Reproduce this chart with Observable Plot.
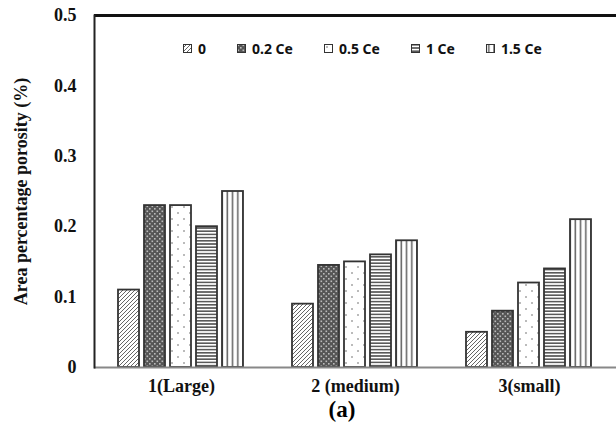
<!DOCTYPE html>
<html>
<head>
<meta charset="utf-8">
<script src="https://cdn.jsdelivr.net/npm/d3@7"></script>
<script src="https://cdn.jsdelivr.net/npm/@observablehq/plot@0.6"></script>
<style>
  html, body { margin: 0; padding: 0; background: #fff; }
  #wrap { position: relative; width: 616px; height: 442px; }
  #legend { position: absolute; top: 39px; left: 183px; display: flex; align-items: center;
    font-family: "Noto Sans", "Open Sans", sans-serif; font-weight: bold; font-size: 14px; color: #111; }
  .item { display: flex; align-items: center; margin-right: 31px; }
  .item svg { margin-right: 6px; }
  #caption { position: absolute; top: 398px; left: 322px; width: 40px; text-align: center;
    font-family: "Liberation Serif", serif; font-weight: bold; font-size: 23px; line-height: 24px; }
</style>
</head>
<body>
<svg width="0" height="0" style="position:absolute">
  <defs>
    <pattern id="p0" patternUnits="userSpaceOnUse" width="4" height="4">
      <rect width="4" height="4" fill="#fff"/>
      <path d="M-1,1 l2,-2 M0,4 l4,-4 M3,5 l2,-2" stroke="#666" stroke-width="1"/>
    </pattern>
    <pattern id="p02" patternUnits="userSpaceOnUse" width="5" height="5">
      <rect width="5" height="5" fill="#555"/>
      <rect x="0.5" y="0.5" width="1.6" height="1.6" fill="#bbb"/>
      <rect x="3" y="3" width="1.6" height="1.6" fill="#bbb"/>
    </pattern>
    <pattern id="p05" patternUnits="userSpaceOnUse" width="12" height="12">
      <rect width="12" height="12" fill="#fff"/>
      <circle cx="3" cy="3" r="0.75" fill="#555"/>
      <circle cx="9" cy="9" r="0.75" fill="#555"/>
    </pattern>
    <pattern id="p1" patternUnits="userSpaceOnUse" width="4" height="3.2">
      <rect width="4" height="3.2" fill="#fff"/>
      <rect y="0" width="4" height="1.6" fill="#5a5a5a"/>
    </pattern>
    <pattern id="p15" patternUnits="userSpaceOnUse" width="5.2" height="4">
      <rect width="5.2" height="4" fill="#fff"/>
      <rect x="2" width="1.6" height="4" fill="#666"/>
    </pattern>
  </defs>
</svg>
<div id="wrap">
  <div id="chart"></div>
  <div id="legend"></div>
  <div id="caption">(a)</div>
</div>
<script>
const groups = ["1(Large)", "2 (medium)", "3(small)"];
const series = ["0", "0.2 Ce", "0.5 Ce", "1 Ce", "1.5 Ce"];
const values0 = [0.11, 0.09, 0.05];
const values02 = [0.23, 0.145, 0.08];
const values05 = [0.23, 0.15, 0.12];
const values1 = [0.20, 0.16, 0.14];
const values15 = [0.25, 0.18, 0.21];
const yTicks = [0, 0.1, 0.2, 0.3, 0.4, 0.5];
const yTickLabels = ["0", "0.1", "0.2", "0.3", "0.4", "0.5"];
const patterns = ["url(#p0)", "url(#p02)", "url(#p05)", "url(#p1)", "url(#p15)"];

const allValues = [values0, values02, values05, values1, values15];
const rows = [];
series.forEach((s, si) => groups.forEach((g, gi) => rows.push({group: g, series: s, value: allValues[si][gi]})));

const chart = Plot.plot({
  width: 616,
  height: 400,
  marginLeft: 93,
  marginRight: 0,
  marginTop: 15,
  marginBottom: 33,
  style: {fontFamily: "Liberation Serif, serif", fontWeight: "bold", color: "#111", background: "#fff"},
  fx: {domain: groups, padding: 0, label: null},
  x: {domain: series, paddingInner: 0.185, paddingOuter: 0.833, axis: null},
  y: {domain: [0, 0.5]},
  color: {type: "ordinal", domain: series, range: patterns},
  marks: [
    Plot.barY(rows, {fx: "group", x: "series", y: "value", fill: "series", stroke: "#333", strokeWidth: 1.8}),
    Plot.ruleY([0], {stroke: "#888", strokeWidth: 2}),
    Plot.ruleY([0.5], {stroke: "#111", strokeWidth: 3}),
    Plot.frame({anchor: "left", facet: "super", stroke: "#222", strokeWidth: 2}),
    Plot.frame({anchor: "right", facet: "super", stroke: "#ccc", strokeWidth: 1}),
    Plot.axisY({ticks: yTicks, tickFormat: (d, i) => yTickLabels[i], tickSize: 0, tickPadding: 18,
      fontSize: 18, label: "Area percentage porosity (%)", labelAnchor: "center", labelOffset: 80, labelArrow: "none"}),
    Plot.axisFx({anchor: "bottom", tickSize: 0, tickPadding: 12, fontSize: 18, label: null})
  ]
});
document.getElementById("chart").appendChild(chart);

const legend = document.getElementById("legend");
series.forEach((s, i) => {
  const item = document.createElement("div");
  item.className = "item";
  item.innerHTML = `<svg width="9" height="9"><rect x="0.5" y="0.5" width="8" height="8" fill="${patterns[i]}" stroke="#333" stroke-width="1"/></svg><span>${s}</span>`;
  legend.appendChild(item);
});
</script>
</body>
</html>
